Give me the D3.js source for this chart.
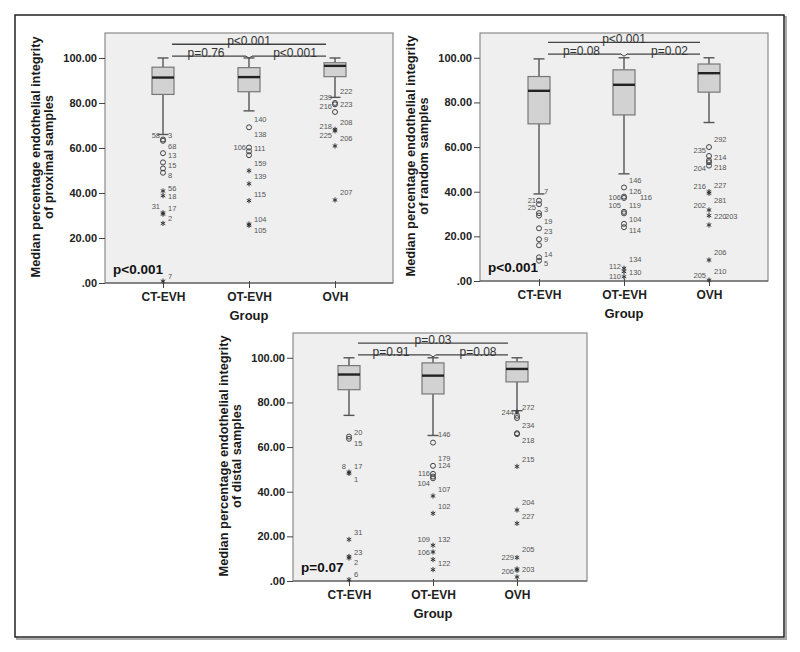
<!DOCTYPE html>
<html><head><meta charset="utf-8">
<script src="https://cdn.jsdelivr.net/npm/d3@7"></script>
<style>body{margin:0;background:#fff}text{font-family:"Liberation Sans",Arial,sans-serif}</style>
</head><body><svg id="chart" width="800" height="652"></svg>
<script>
// ---------- DATA ----------
const groups = ["CT-EVH", "OT-EVH", "OVH"];
const yTicks = [0, 20, 40, 60, 80, 100];
const titleLine1 = "Median percentage endothelial integrity";
const titleLine2 = ["of proximal samples", "of random samples", "of distal samples"];
const xTitle = "Group";
const overallP = ["p<0.001", "p<0.001", "p=0.07"];
// pairwise p: [CT vs OT, OT vs OVH, CT vs OVH]
const pairP = [["p=0.76", "p<0.001", "p<0.001"], ["p=0.08", "p=0.02", "p<0.001"], ["p=0.91", "p=0.08", "p=0.03"]];

// box stats: [lower whisker, Q1, median, Q3, upper whisker]
const proxBoxes = [[66, 83.8, 91.3, 95.9, 100], [76.5, 85, 91.5, 95.7, 100], [82.5, 91.7, 96.5, 97.9, 100]];
const randBoxes = [[39, 70.4, 85.2, 91.6, 99.5], [48, 74.4, 87.9, 94.6, 100], [71, 84.6, 93.1, 97.2, 100]];
const distBoxes = [[74.2, 85.7, 92.5, 96.5, 100], [65.2, 83.8, 92, 97.7, 100], [76.3, 89.2, 95, 98.2, 100]];

// outliers: [value, shape]  o = outlier circle, * = extreme
const proxOut = [
  [[63.8,'o'],[63.2,'o'],[57.7,'o'],[53.6,'o'],[50.9,'o'],[49,'o'],[40.9,'*'],[38.8,'*'],[31.2,'*'],[30.6,'*'],[26.5,'*'],[0.8,'*']],
  [[69.2,'o'],[60.2,'o'],[58.5,'o'],[56.8,'o'],[49.9,'*'],[44.1,'*'],[36.6,'*'],[26.2,'*'],[25.6,'*']],
  [[80,'o'],[79.4,'o'],[76,'o'],[68.3,'*'],[67.6,'*'],[60.9,'*'],[36.9,'*']]
];
const randOut = [
  [[36,'o'],[34.4,'o'],[30.4,'o'],[29.3,'o'],[23.6,'o'],[18.7,'o'],[16,'o'],[10.6,'o'],[9.1,'o']],
  [[41.9,'o'],[37.8,'o'],[37.2,'o'],[31,'o'],[30.3,'o'],[25.6,'o'],[24.1,'o'],[5.7,'*'],[4.2,'*'],[1.9,'*']],
  [[60,'o'],[56,'o'],[54,'o'],[53.2,'o'],[51.7,'o'],[40,'*'],[39.3,'*'],[31.8,'*'],[29.3,'*'],[25.1,'*'],[9.4,'*'],[0.4,'*']]
];
const distOut = [
  [[64.7,'o'],[63.7,'o'],[48.8,'*'],[48.2,'*'],[18.6,'*'],[11,'*'],[10.3,'*'],[0.6,'*']],
  [[62,'o'],[51.6,'o'],[48,'o'],[46.8,'o'],[46,'o'],[38.1,'*'],[30.3,'*'],[16,'*'],[13,'*'],[9.6,'*'],[5.1,'*']],
  [[75.7,'*'],[74,'o'],[73,'o'],[66.2,'o'],[65.8,'o'],[51.3,'*'],[31.8,'*'],[25.8,'*'],[10.5,'*'],[5.4,'*'],[4.8,'*'],[1.8,'*']]
];

// case labels: [value, case id, side]
const proxLab = [
  [[65.5,'58','l'],[65.5,'3','r'],[60.6,'68','r'],[56.6,'13','r'],[52.3,'15','r'],[47.7,'8','r'],[42.2,'56','r'],[38.4,'18','r'],[34.2,'31','l'],[33.3,'17','r'],[28.8,'2','r'],[3.1,'7','r']],
  [[72.6,'140','r'],[65.9,'138','r'],[60.1,'106','l'],[60,'111','r'],[53,'159','r'],[47.3,'139','r'],[39.6,'115','r'],[28.4,'104','r'],[23.4,'105','r']],
  [[85.3,'222','r'],[82.5,'239','l'],[78.7,'216','l'],[79.4,'223','r'],[71.3,'208','r'],[69.8,'218','l'],[65.8,'225','l'],[64.3,'206','r'],[40.1,'207','r']]
];
const randLab = [
  [[40.1,'7','r'],[36.3,'21','l'],[32.9,'25','l'],[32.1,'3','r'],[26.6,'19','r'],[22.4,'23','r'],[18.7,'9','r'],[12,'14','r'],[7.8,'5','r']],
  [[45.3,'146','r'],[40,'126','r'],[37.6,'106','l'],[37.6,'116','rr'],[33.8,'105','l'],[33.8,'119','r'],[27.4,'104','r'],[22.6,'114','r'],[9.9,'134','r'],[6.4,'112','l'],[3.9,'130','r'],[1.9,'110','l']],
  [[63.5,'292','r'],[58.7,'235','l'],[55.4,'214','r'],[50.5,'204','l'],[50.8,'218','r'],[42.6,'216','l'],[42.8,'227','r'],[36,'281','r'],[34.1,'202','l'],[28.9,'220','r'],[28.9,'203','rr'],[12.7,'206','r'],[4.2,'210','r'],[2.4,'205','l']]
];
const distLab = [
  [[66.7,'20','r'],[61.8,'15','r'],[51.3,'8','l'],[51.3,'17','r'],[45.7,'1','r'],[21.8,'31','r'],[12.8,'23','r'],[8.3,'2','r'],[2.9,'6','r']],
  [[65.5,'146','r'],[55,'179','r'],[51.6,'124','r'],[48.3,'116','l'],[43.8,'104','l'],[41.2,'107','r'],[33.6,'102','r'],[18.8,'109','l'],[18.8,'132','r'],[13,'106','l'],[7.8,'122','r']],
  [[78,'272','r'],[75.7,'244','l'],[69.6,'234','r'],[62.8,'218','r'],[54.6,'215','r'],[35.1,'204','r'],[29.1,'227','r'],[14.1,'205','r'],[10.5,'229','l'],[4.5,'206','l'],[5.1,'203','r']]
];

// ---------- LAYOUT ----------
const panels = [
  {left:105, right:393, top:33, axisY:283, x0:163, x1:335, lowBar:100.8, highBar:106.1, boxes:proxBoxes, out:proxOut, lab:proxLab},
  {left:480, right:768, top:33, axisY:281, x0:539, x1:709, lowBar:101.6, highBar:106.9, boxes:randBoxes, out:randOut, lab:randLab},
  {left:293, right:587, top:333, axisY:581, x0:349, x1:517, lowBar:101.3, highBar:106.6, boxes:distBoxes, out:distOut, lab:distLab}
];
const yMax = 111.1;

const svg = d3.select("#chart");
svg.append("rect").attr("width", 800).attr("height", 652).attr("fill", "#fff");

// outer frame with shadow
svg.append("rect").attr("x", 17).attr("y", 17).attr("width", 769).attr("height", 622).attr("fill", "none").attr("stroke", "#aaa").attr("stroke-width", 2);
svg.append("rect").attr("x", 15).attr("y", 15).attr("width", 769).attr("height", 622).attr("fill", "#fff").attr("stroke", "#222").attr("stroke-width", 1.5);

function asterisk(r) {
  let d = "";
  [90, 30, 150].forEach(a => {
    const t = a * Math.PI / 180, dx = r * Math.cos(t), dy = r * Math.sin(t);
    d += `M${-dx},${-dy}L${dx},${dy}`;
  });
  return d;
}

panels.forEach((p, pi) => {
  const g = svg.append("g");
  const y = d3.scaleLinear().domain([0, yMax]).range([p.axisY, p.top]);
  const x = d3.scalePoint().domain(groups).range([p.x0, p.x1]);

  g.append("rect").attr("x", p.left).attr("y", p.top).attr("width", p.right - p.left).attr("height", p.axisY - p.top)
    .attr("fill", "#efefef").attr("stroke", "#8a8a8a").attr("stroke-width", 1.2);

  // y axis
  const ya = g.append("g").attr("transform", `translate(${p.left},0)`)
    .call(d3.axisLeft(y).tickValues(yTicks).tickSize(6).tickPadding(2)
      .tickFormat(v => v === 0 ? ".00" : v.toFixed(2)));
  ya.select(".domain").remove();
  ya.selectAll(".tick line").attr("stroke", "#444");
  ya.selectAll(".tick text").attr("font-size", 11).attr("font-weight", "bold").attr("fill", "#222")
    .style("font-family", '"Liberation Sans",Arial,sans-serif');

  // x axis
  const xa = g.append("g").attr("transform", `translate(0,${p.axisY})`)
    .call(d3.axisBottom(x).tickSize(5).tickPadding(4));
  xa.select(".domain").attr("stroke", "#555").attr("d", `M${p.left},0H${p.right}`);
  xa.selectAll(".tick line").attr("stroke", "#444").attr("y1", -2);
  xa.selectAll(".tick text").attr("font-size", 12).attr("font-weight", "bold").attr("fill", "#222")
    .attr("y", 18).attr("dy", 0).style("font-family", '"Liberation Sans",Arial,sans-serif');

  // titles
  const cy = (p.top + p.axisY) / 2 - 1;
  const tg = g.append("g").attr("transform", `translate(${p.left - 65},${cy}) rotate(-90)`);
  tg.append("text").attr("text-anchor", "middle").attr("y", 0).attr("font-size", 12.8).attr("font-weight", "bold").attr("fill", "#1a1a1a").text(titleLine1);
  tg.append("text").attr("text-anchor", "middle").attr("y", 13).attr("font-size", 12.8).attr("font-weight", "bold").attr("fill", "#1a1a1a").text(titleLine2[pi]);
  g.append("text").attr("x", x(groups[1])).attr("y", p.axisY + 37).attr("text-anchor", "middle")
    .attr("font-size", 13).attr("font-weight", "bold").attr("fill", "#1a1a1a").text(xTitle);

  // overall p
  g.append("text").attr("x", p.left + 8).attr("y", p.axisY - 9).attr("font-size", 13.5).attr("font-weight", "bold")
    .attr("fill", "#111").text(overallP[pi]);

  // boxes
  groups.forEach((grp, gi) => {
    const [lo, q1, md, q3, hi] = p.boxes[gi];
    const cx = x(grp), bw = 11, cw = 5.5;
    const bg = g.append("g");
    bg.append("line").attr("x1", cx).attr("x2", cx).attr("y1", y(hi)).attr("y2", y(q3)).attr("stroke", "#555").attr("stroke-width", 1.4);
    bg.append("line").attr("x1", cx).attr("x2", cx).attr("y1", y(q1)).attr("y2", y(lo)).attr("stroke", "#555").attr("stroke-width", 1.4);
    [hi, lo].forEach(v => bg.append("line").attr("x1", cx - cw).attr("x2", cx + cw).attr("y1", y(v)).attr("y2", y(v)).attr("stroke", "#555").attr("stroke-width", 1.4));
    bg.append("rect").attr("x", cx - bw).attr("width", bw * 2).attr("y", y(q3)).attr("height", y(q1) - y(q3))
      .attr("fill", "#d2d2d2").attr("stroke", "#777").attr("stroke-width", 1.2);
    bg.append("line").attr("x1", cx - bw).attr("x2", cx + bw).attr("y1", y(md)).attr("y2", y(md)).attr("stroke", "#222").attr("stroke-width", 2.4);

    // outliers
    p.out[gi].forEach(([v, s]) => {
      if (s === 'o') {
        bg.append("circle").attr("cx", cx).attr("cy", y(v)).attr("r", 2.5).attr("fill", "none").attr("stroke", "#444").attr("stroke-width", 1);
      } else {
        bg.append("path").attr("transform", `translate(${cx},${y(v)})`).attr("d", asterisk(2.6)).attr("stroke", "#333").attr("stroke-width", 1);
      }
    });
    p.lab[gi].forEach(([v, t, side]) => {
      const dx = side === 'l' ? -3 : side === 'rr' ? 16 : 5;
      bg.append("text").attr("x", cx + dx).attr("y", y(v)).attr("dy", "0.35em")
        .attr("text-anchor", side === 'l' ? "end" : "start").attr("font-size", 7.5).attr("fill", "#555").text(t);
    });
  });

  // pairwise comparison bars
  const xc = x(groups[0]), xo = x(groups[1]), xv = x(groups[2]);
  const yl = y(p.lowBar), yh = y(p.highBar);
  const bar = (x1, x2, yy, t, tx) => {
    g.append("line").attr("x1", x1).attr("x2", x2).attr("y1", yy).attr("y2", yy).attr("stroke", "#444").attr("stroke-width", 1.3);
    g.append("text").attr("x", tx).attr("y", yy + 1).attr("text-anchor", "middle").attr("font-size", 12).attr("fill", "#333").text(t);
  };
  bar(xc + 9, xo - 3, yl, pairP[pi][0], (xc + xo) / 2);
  bar(xo + 3, xv - 9, yl, pairP[pi][1], (xo + xv) / 2 + 3);
  g.append("path").attr("d", `M${xo - 3},${yl}L${xo},${yl + 2}L${xo + 3},${yl}`).attr("fill", "none").attr("stroke", "#444").attr("stroke-width", 1);
  bar(xc + 9, xv - 9, yh, pairP[pi][2], (xc + xv) / 2);
});
</script></body></html>
